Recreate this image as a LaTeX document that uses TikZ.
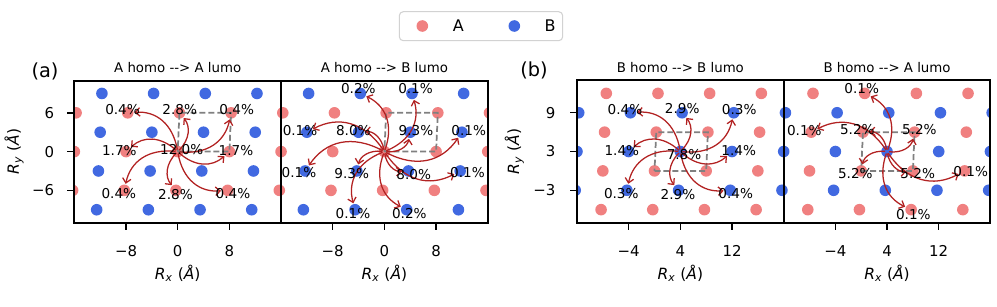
\documentclass[tikz,border=0pt]{standalone}
\usepackage{fontspec}
\setmainfont{DejaVu Sans}
\usetikzlibrary{calc,arrows.meta}
\definecolor{acol}{RGB}{240,128,128}
\definecolor{bcol}{RGB}{65,105,225}
\definecolor{arrcol}{RGB}{178,34,34}
\definecolor{cellcol}{RGB}{128,128,128}
\definecolor{legedge}{RGB}{210,210,210}
\def\sh{0.27}
\def\rad{4.35pt}
\newcommand{\dashar}{-{}-{}>}
\begin{document}
\begin{tikzpicture}[x=0.75pt,y=-0.75pt,
  frame/.style={draw=black,line width=1.5pt},
  tickmark/.style={draw=black,line width=1pt},
  cell/.style={draw=cellcol,line width=1.3pt,dash pattern=on 4.5pt off 2.2pt},
  arr/.style={draw=arrcol,line width=0.95pt,-{Straight Barb[length=3.4pt,width=6.4pt]},shorten >=5pt,shorten <=1.5pt},
  pct/.style={font=\fontsize{10.2}{12}\selectfont,inner sep=0pt},
  ticklab/.style={font=\fontsize{11.2}{13}\selectfont,inner sep=0pt},
  axlab/.style={font=\fontsize{11.6}{14}\selectfont,inner sep=0pt},
  legtxt/.style={font=\fontsize{12}{14}\selectfont,inner sep=0pt},
  ttl/.style={font=\fontsize{10}{12}\selectfont,inner sep=0pt,anchor=base},
  bowto/.style={to path={.. controls ($(\tikztostart)!1/3!(\tikztotarget)!#1!-90:(\tikztotarget)$) and ($(\tikztostart)!2/3!(\tikztotarget)!#1!90:(\tikztostart)$) .. (\tikztotarget) \tikztonodes}}
]
\useasboundingbox (0,0) rectangle (997,307);

% ---------------- legend ----------------
\draw[legedge,line width=0.8pt,rounded corners=3pt,fill=white] (399.3,11.7) rectangle (562.7,40.7);
\fill[acol] (422.3,26) circle[radius=\rad];
\fill[bcol] (514.3,26) circle[radius=\rad];
\node[legtxt] (legA) at (458.3,26) {A};
\node[legtxt] (legB) at (550,26) {B};

% panel letters
\node[font=\fontsize{14.5}{16}\selectfont,inner sep=0pt] (lab-a) at (45,71) {(a)};
\node[font=\fontsize{14.5}{16}\selectfont,inner sep=0pt] (lab-b) at (534,70.5) {(b)};

% =============== Panel 1: A homo --> A lumo ===============
\begin{scope}[shift={(177.7,151.6)},x=4.845pt,y=4.845pt]
  \begin{scope}
    \clip (-16,-11) rectangle (16,11);
    \foreach \i in {-3,...,3}{\foreach \j in {-2,...,2}{
      \fill[acol] ({8*\i+\sh*\j},{6*\j}) circle[radius=\rad];
      \fill[bcol] ({4+8*\i+\sh*\j},{3+6*\j}) circle[radius=\rad];}}
  \end{scope}
  \draw[cell] (0,0) -- (8,0) -- ({8+\sh},6) -- (\sh,6) -- cycle;
  \coordinate (p1c) at (0,0);
  \foreach \i/\j in {-1/1,0/1,1/1,-1/0,1/0,-1/-1,0/-1,1/-1}{
    \coordinate (p1t\i\j) at ({8*\i+\sh*\j},{6*\j});
    \draw[arr] (p1c) to[bowto=0.45] (p1t\i\j);}
  \node[pct] (p1l1) at (-8.54,6.44) {0.4\%};
  \node[pct] (p1l2) at (0.31,6.55) {2.8\%};
  \node[pct] (p1l3) at (9.13,6.44) {0.4\%};
  \node[pct] (p1l4) at (-9.04,0.14) {1.7\%};
  \node[pct] (p1l5) at (0.62,0.25) {12.0\%};
  \node[pct] (p1l6) at (9.02,0.14) {1.7\%};
  \node[pct] (p1l7) at (-9.11,-6.56) {0.4\%};
  \node[pct] (p1l8) at (-0.34,-6.7) {2.8\%};
  \node[pct] (p1l9) at (8.56,-6.56) {0.4\%};
  \draw[frame] (-16,-11) rectangle (16,11);
  \foreach \x/\t in {-8/−8,0/0,8/8}{
    \draw[tickmark] (\x,-11) -- ++(0,-5.25pt);
    \node[ticklab,anchor=base,yshift=-25.6pt] (p1x\x) at (\x,-11) {\t};}
  \foreach \y/\t in {6/6,0/0,-6/−6}{
    \draw[tickmark] (-16,\y) -- ++(-5.25pt,0);
    \node[ticklab,anchor=east,xshift=-15pt] (p1y\y) at (-16,\y) {\t};}
  \node[ttl,yshift=6.2pt] (p1title) at (0,11) {A homo \dashar{} A lumo};
  \node[axlab,anchor=base,yshift=-42.5pt] (p1xl) at (0,-11) {\textit{R}\textsubscript{\textit{x}} (\textit{Å})};
  \node[axlab,rotate=90] (p1yl) at ([xshift=-45.2pt]-16,0) {\textit{R}\textsubscript{\textit{y}} (\textit{Å})};
\end{scope}

% =============== Panel 2: A homo --> B lumo ===============
\begin{scope}[shift={(384.4,151.6)},x=4.845pt,y=4.845pt]
  \begin{scope}
    \clip (-16,-11) rectangle (16,11);
    \foreach \i in {-3,...,3}{\foreach \j in {-2,...,2}{
      \fill[acol] ({8*\i+\sh*\j},{6*\j}) circle[radius=\rad];
      \fill[bcol] ({4+8*\i+\sh*\j},{3+6*\j}) circle[radius=\rad];}}
  \end{scope}
  \draw[cell] (0,0) -- (8,0) -- ({8+\sh},6) -- (\sh,6) -- cycle;
  \coordinate (p2c) at (0,0);
  \foreach \i/\j in {-1/1,0/1,-2/0,-1/0,0/0,1/0,-2/-1,-1/-1,0/-1,1/-1,-1/-2,0/-2}{
    \coordinate (p2t\i\j) at ({4+8*\i+\sh*\j},{3+6*\j});
    \draw[arr] (p2c) to[bowto=0.45] (p2t\i\j);}
  \node[pct] (p2l1) at (-4.04,9.73) {0.2\%};
  \node[pct] (p2l2) at (4.82,9.73) {0.1\%};
  \node[pct] (p2l3) at (-13.06,3.25) {0.1\%};
  \node[pct] (p2l4) at (-4.81,3.19) {8.0\%};
  \node[pct] (p2l5) at (4.88,3.19) {9.3\%};
  \node[pct] (p2l6) at (13.05,3.25) {0.1\%};
  \node[pct] (p2l7) at (-13.22,-3.28) {0.1\%};
  \node[pct] (p2l8) at (-5.06,-3.34) {9.3\%};
  \node[pct] (p2l9) at (4.54,-3.5) {8.0\%};
  \node[pct] (p2l10) at (12.86,-3.28) {0.1\%};
  \node[pct] (p2l11) at (-4.86,-9.63) {0.1\%};
  \node[pct] (p2l12) at (3.86,-9.63) {0.2\%};
  \draw[frame] (-16,-11) rectangle (16,11);
  \foreach \x/\t in {-8/−8,0/0,8/8}{
    \draw[tickmark] (\x,-11) -- ++(0,-5.25pt);
    \node[ticklab,anchor=base,yshift=-25.6pt] (p2x\x) at (\x,-11) {\t};}
  \node[ttl,yshift=6.2pt] (p2title) at (0,11) {A homo \dashar{} B lumo};
  \node[axlab,anchor=base,yshift=-42.5pt] (p2xl) at (0,-11) {\textit{R}\textsubscript{\textit{x}} (\textit{Å})};
\end{scope}

% =============== Panel 3: B homo --> B lumo ===============
\begin{scope}[shift={(654.5,170.9)},x=4.845pt,y=4.845pt]
  \begin{scope}
    \clip (-12,-8) rectangle (20,14);
    \foreach \i in {-3,...,3}{\foreach \j in {-2,...,2}{
      \fill[acol] ({8*\i+\sh*\j},{6*\j}) circle[radius=\rad];
      \fill[bcol] ({4+8*\i+\sh*\j},{3+6*\j}) circle[radius=\rad];}}
  \end{scope}
  \draw[cell] (0,0) -- (8,0) -- ({8+\sh},6) -- (\sh,6) -- cycle;
  \coordinate (p3c) at (4,3);
  \foreach \i/\j in {-1/1,0/1,1/1,-1/0,1/0,-1/-1,0/-1,1/-1}{
    \coordinate (p3t\i\j) at ({4+8*\i+\sh*\j},{3+6*\j});
    \draw[arr] (p3c) to[bowto=0.45] (p3t\i\j);}
  \node[pct] (p3l1) at (-4.57,9.55) {0.4\%};
  \node[pct] (p3l2) at (4.29,9.66) {2.9\%};
  \node[pct] (p3l3) at (13.11,9.55) {0.3\%};
  \node[pct] (p3l4) at (-5.06,3.11) {1.4\%};
  \node[pct] (p3l5) at (4.57,2.59) {7.8\%};
  \node[pct] (p3l6) at (13.03,3.11) {1.4\%};
  \node[pct] (p3l7) at (-5.14,-3.45) {0.3\%};
  \node[pct] (p3l8) at (3.64,-3.68) {2.9\%};
  \node[pct] (p3l9) at (12.57,-3.45) {0.4\%};
  \draw[frame] (-12,-8) rectangle (20,14);
  \foreach \x/\t in {-4/−4,4/4,12/12}{
    \draw[tickmark] (\x,-8) -- ++(0,-5.25pt);
    \node[ticklab,anchor=base,yshift=-25.6pt] (p3x\x) at (\x,-8) {\t};}
  \foreach \y/\t in {9/9,3/3,-3/−3}{
    \draw[tickmark] (-12,\y) -- ++(-5.25pt,0);
    \node[ticklab,anchor=east,xshift=-16pt] (p3y\y) at (-12,\y) {\t};}
  \node[ttl,yshift=6.2pt] (p3title) at (4,14) {B homo \dashar{} B lumo};
  \node[axlab,anchor=base,yshift=-42.5pt] (p3xl) at (4,-8) {\textit{R}\textsubscript{\textit{x}} (\textit{Å})};
  \node[axlab,rotate=90] (p3yl) at ([xshift=-47pt]-12,3) {\textit{R}\textsubscript{\textit{y}} (\textit{Å})};
\end{scope}

% =============== Panel 4: B homo --> A lumo ===============
\begin{scope}[shift={(861.2,170.9)},x=4.845pt,y=4.845pt]
  \begin{scope}
    \clip (-12,-8) rectangle (20,14);
    \foreach \i in {-3,...,3}{\foreach \j in {-2,...,2}{
      \fill[acol] ({8*\i+\sh*\j},{6*\j}) circle[radius=\rad];
      \fill[bcol] ({4+8*\i+\sh*\j},{3+6*\j}) circle[radius=\rad];}}
  \end{scope}
  \draw[cell] (0,0) -- (8,0) -- ({8+\sh},6) -- (\sh,6) -- cycle;
  \coordinate (p4c) at (4,3);
  \foreach \i/\j in {0/2,-1/1,0/1,1/1,0/0,1/0,2/0,1/-1}{
    \coordinate (p4t\i\j) at ({8*\i+\sh*\j},{6*\j});
    \draw[arr] (p4c) to[bowto=0.45] (p4t\i\j);}
  \node[pct] (p4l1) at (0.08,12.79) {0.1\%};
  \node[pct] (p4l2) at (-8.8,6.25) {0.1\%};
  \node[pct] (p4l3) at (-0.6,6.33) {5.2\%};
  \node[pct] (p4l4) at (9.0,6.33) {5.2\%};
  \node[pct] (p4l5) at (-0.91,-0.37) {5.2\%};
  \node[pct] (p4l6) at (8.74,-0.37) {5.2\%};
  \node[pct] (p4l7) at (16.95,-0.12) {0.1\%};
  \node[pct] (p4l8) at (8.07,-6.72) {0.1\%};
  \draw[frame] (-12,-8) rectangle (20,14);
  \foreach \x/\t in {-4/−4,4/4,12/12}{
    \draw[tickmark] (\x,-8) -- ++(0,-5.25pt);
    \node[ticklab,anchor=base,yshift=-25.6pt] (p4x\x) at (\x,-8) {\t};}
  \node[ttl,yshift=6.2pt] (p4title) at (4,14) {B homo \dashar{} A lumo};
  \node[axlab,anchor=base,yshift=-42.5pt] (p4xl) at (4,-8) {\textit{R}\textsubscript{\textit{x}} (\textit{Å})};
\end{scope}
\end{tikzpicture}
\end{document}
